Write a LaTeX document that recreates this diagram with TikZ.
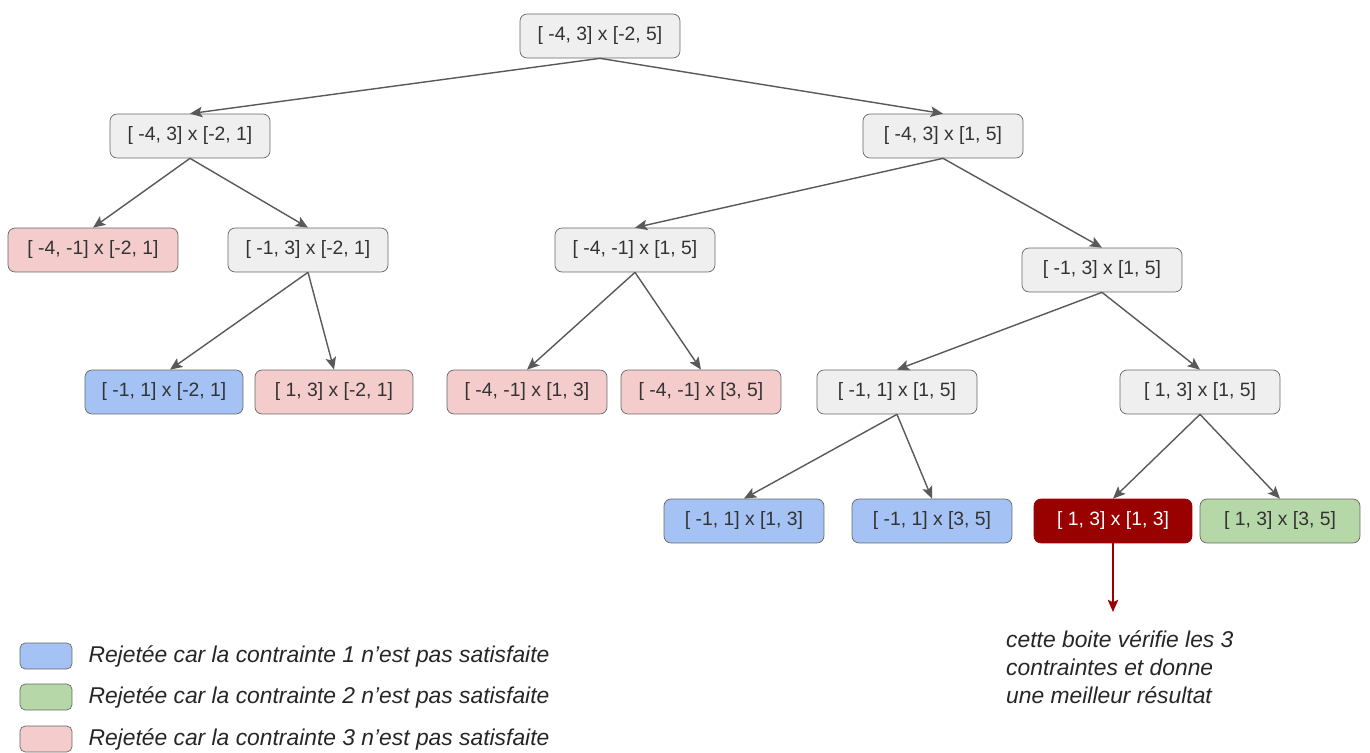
\documentclass[tikz,border=0pt]{standalone}
\usepackage{fontspec}
\setmainfont{Liberation Sans}
\usepackage{tikz}
\usetikzlibrary{calc,positioning,shapes,arrows.meta}
\definecolor{boxgray}{HTML}{EFEFEF}
\definecolor{boxline}{HTML}{666666}
\definecolor{rejone}{HTML}{A4C2F4}
\definecolor{rejtwo}{HTML}{B6D7A8}
\definecolor{rejthree}{HTML}{F4CCCC}
\definecolor{bestred}{HTML}{990000}
\definecolor{edgegray}{HTML}{595959}
\tikzstyle{Box} = [rectangle, draw=boxline, fill=boxgray, rounded corners=4pt,
    minimum width=3.2cm, minimum height=0.88cm, inner sep=0pt,
    font=\fontsize{11}{13}\selectfont, text=black!80]
\tikzstyle{RejOne} = [Box, fill=rejone]
\tikzstyle{RejTwo} = [Box, fill=rejtwo]
\tikzstyle{RejThree} = [Box, fill=rejthree]
\tikzstyle{Best} = [Box, draw=bestred, fill=bestred, text=white]
\tikzstyle{LegendBox} = [rectangle, draw=boxline, rounded corners=3pt,
    minimum width=1.04cm, minimum height=0.52cm, inner sep=0pt]
\tikzstyle{LegendText} = [right, font=\fontsize{13}{16}\selectfont\itshape, text=black!85]
\tikzstyle{arrow} = [draw=edgegray, line width=0.8pt,
    -{Stealth[length=7pt, width=6pt, inset=1.5pt]}]

\begin{document}
\begin{tikzpicture}[x=0.02cm, y=-0.02cm]
    \useasboundingbox (0,0) rectangle (1370,753);
    % tree
    \node[Box] (Root) at (600,36) {[ -4, 3] x [-2, 5]};
    \node[Box] (LeftY) at (190,136) {[ -4, 3] x [-2, 1]};
    \node[Box] (RightY) at (943,136) {[ -4, 3] x [1, 5]};
    \node[RejThree, minimum width=3.4cm] (LeftYLeftX) at (93,250) {[ -4, -1] x [-2, 1]};
    \node[Box] (LeftYRightX) at (308,250) {[ -1, 3] x [-2, 1]};
    \node[Box] (RightYLeftX) at (635,250) {[ -4, -1] x [1, 5]};
    \node[Box] (RightYRightX) at (1102,270) {[ -1, 3] x [1, 5]};
    \node[RejOne, minimum width=3.16cm] (BoxA) at (164,392) {[ -1, 1] x [-2, 1]};
    \node[RejThree, minimum width=3.16cm] (BoxB) at (334,392) {[ 1, 3] x [-2, 1]};
    \node[RejThree] (BoxC) at (527,392) {[ -4, -1] x [1, 3]};
    \node[RejThree] (BoxD) at (701,392) {[ -4, -1] x [3, 5]};
    \node[Box] (MidX) at (897,392) {[ -1, 1] x [1, 5]};
    \node[Box] (HighX) at (1200,392) {[ 1, 3] x [1, 5]};
    \node[RejOne] (BoxE) at (744,521) {[ -1, 1] x [1, 3]};
    \node[RejOne] (BoxF) at (932,521) {[ -1, 1] x [3, 5]};
    \node[Best, minimum width=3.16cm] (BestBox) at (1113,521) {[ 1, 3] x [1, 3]};
    \node[RejTwo] (BoxG) at (1280,521) {[ 1, 3] x [3, 5]};
    % edges
    \draw [arrow] (Root.south) -- (LeftY.north);
    \draw [arrow] (Root.south) -- (RightY.north);
    \draw [arrow] (LeftY.south) -- (LeftYLeftX.north);
    \draw [arrow] (LeftY.south) -- (LeftYRightX.north);
    \draw [arrow] (LeftYRightX.south) -- ($(BoxA.north)+(6,0)$);
    \draw [arrow] (LeftYRightX.south) -- (BoxB.north);
    \draw [arrow] (RightY.south) -- (RightYLeftX.north);
    \draw [arrow] (RightY.south) -- (RightYRightX.north);
    \draw [arrow] (RightYLeftX.south) -- (BoxC.north);
    \draw [arrow] (RightYLeftX.south) -- (BoxD.north);
    \draw [arrow] (RightYRightX.south) -- (MidX.north);
    \draw [arrow] (RightYRightX.south) -- (HighX.north);
    \draw [arrow] (MidX.south) -- (BoxE.north);
    \draw [arrow] (MidX.south) -- (BoxF.north);
    \draw [arrow] (HighX.south) -- (BestBox.north);
    \draw [arrow] (HighX.south) -- (BoxG.north);
    % result note
    \coordinate (NoteTip) at (1113,612);
    \draw [arrow, draw=bestred, fill=bestred] (BestBox.south) -- (NoteTip);
    \node[LegendText, anchor=north west, align=left] (Note) at (1000,624) {%
        cette boite vérifie les 3\\contraintes et donne\\une meilleur résultat};
    % legend
    \node[LegendBox, fill=rejone] (KeyOne) at (46,656) {};
    \node[LegendBox, fill=rejtwo] (KeyTwo) at (46,697) {};
    \node[LegendBox, fill=rejthree] (KeyThree) at (46,739) {};
    \node[LegendText] at ($(KeyOne.east)+(10,0)$) {Rejetée car la contrainte 1 n’est pas satisfaite};
    \node[LegendText] at ($(KeyTwo.east)+(10,0)$) {Rejetée car la contrainte 2 n’est pas satisfaite};
    \node[LegendText] at ($(KeyThree.east)+(10,0)$) {Rejetée car la contrainte 3 n’est pas satisfaite};
\end{tikzpicture}
\end{document}
